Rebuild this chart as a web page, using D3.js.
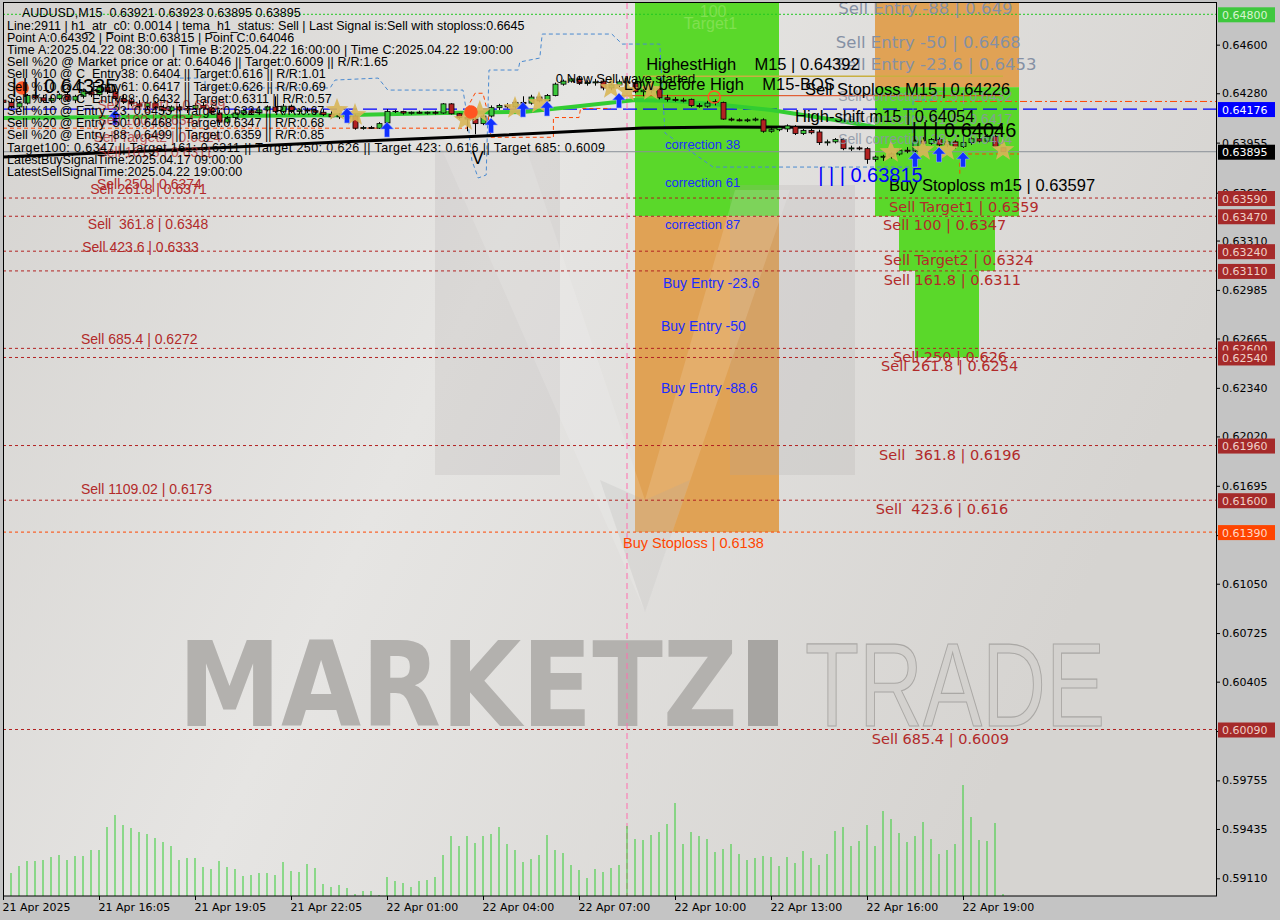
<!DOCTYPE html>
<html><head><meta charset="utf-8">
<script src="https://cdn.jsdelivr.net/npm/d3@7"></script>
<style>body{margin:0;background:#c4c4c4;overflow:hidden}svg{display:block}</style>
</head><body><svg id="c" width="1280" height="920"></svg>
<script>
// ---------------- DATA ----------------
const symbolTitle = "AUDUSD,M15  0.63921 0.63923 0.63895 0.63895";
const timeLabels = ["21 Apr 2025","21 Apr 16:05","21 Apr 19:05","21 Apr 22:05","22 Apr 01:00","22 Apr 04:00","22 Apr 07:00","22 Apr 10:00","22 Apr 13:00","22 Apr 16:00","22 Apr 19:00"];
const timeTickBars = [0,12,24,36,48,60,72,84,96,108,120];
const priceTicks = [0.646,0.6428,0.63955,0.63625,0.6331,0.62985,0.62665,0.6234,0.6202,0.61695,0.6137,0.6105,0.60725,0.60405,0.6008,0.59755,0.59435,0.5911];
// open, high, low, close per M15 bar
const ohlc = [
[.64235,.6426,.6421,.6422],[.6422,.6424,.6418,.6419],[.6419,.64225,.6418,.64215],[.64215,.64275,.64205,.64265],[.64265,.6429,.6424,.6425],
[.6425,.6427,.6422,.6423],[.6423,.6426,.64215,.64245],[.64245,.6428,.64235,.6427],[.6427,.64285,.64225,.64235],[.64235,.6427,.64215,.6426],
[.6426,.643,.64245,.6429],[.6429,.6431,.64255,.6427],[.6427,.6433,.6426,.6432],[.6432,.64345,.64275,.6429],[.6429,.6431,.6423,.64245],
[.64245,.6427,.6421,.64225],[.64225,.6425,.64195,.6421],[.6421,.64235,.6418,.64195],[.64195,.64225,.6417,.64215],[.64215,.6423,.64175,.64185],
[.64185,.64205,.6415,.64165],[.64165,.642,.64155,.6419],[.6419,.6421,.6416,.6417],[.6417,.64195,.6415,.6418],[.6418,.64215,.6417,.642],
[.642,.6422,.64175,.64185],[.64185,.642,.6414,.6415],[.6415,.6417,.6407,.6409],[.6409,.6413,.6408,.6412],[.6412,.6416,.6411,.6415],
[.6415,.64175,.64135,.64165],[.64165,.6418,.6414,.6415],[.6415,.64175,.6414,.6417],[.6417,.642,.6416,.6419],[.6419,.6426,.6415,.6416],
[.6416,.6421,.6415,.64195],[.64195,.64205,.6415,.6416],[.6416,.6418,.6414,.6417],[.6417,.64185,.6415,.64165],[.64165,.6418,.6414,.64155],
[.64155,.64175,.6413,.6414],[.6414,.6416,.64115,.64125],[.64125,.6415,.6411,.64135],[.64135,.64145,.641,.64115],[.6413,.6414,.6404,.6405],
[.6405,.64065,.6404,.64055],[.64055,.64065,.64045,.6405],[.6405,.6409,.64045,.6408],[.64085,.64175,.6408,.6416],[.6416,.6417,.6415,.6416],
[.6416,.64165,.6414,.6415],[.6415,.6416,.6414,.64155],[.64155,.64165,.64145,.6415],[.6415,.6416,.6414,.64155],[.64155,.64165,.6414,.6415],
[.6415,.64215,.64145,.6421],[.6421,.64215,.6414,.64145],[.64145,.6415,.6411,.6412],[.6412,.6416,.6403,.6411],[.6411,.6413,.6401,.6408],
[.6408,.6414,.6407,.6413],[.6413,.642,.6412,.64185],[.64185,.6421,.6417,.642],[.642,.64215,.6418,.6419],[.6419,.6423,.6418,.6422],
[.6422,.6426,.642,.64215],[.64215,.6427,.64205,.64255],[.64255,.6426,.6422,.6423],[.6423,.64275,.6422,.64265],[.64265,.6435,.6426,.6434],
[.6434,.6437,.6433,.6436],[.6436,.6438,.6435,.64375],[.64375,.64395,.64335,.64345],[.64345,.64365,.6433,.6435],[.6435,.64375,.6433,.64355],
[.6436,.64375,.643,.64315],[.64315,.64345,.643,.64335],[.64335,.6437,.6432,.64355],[.64355,.64392,.6433,.64345],[.64345,.64365,.6428,.6429],
[.6429,.6432,.6426,.643],[.643,.6433,.6428,.6431],[.6431,.64325,.6424,.6425],[.6425,.6427,.64225,.6424],[.6424,.64255,.64225,.64235],
[.64235,.6425,.6422,.6423],[.6424,.64245,.6419,.642],[.642,.64215,.64185,.64195],[.64195,.6423,.64185,.64215],[.64225,.6424,.642,.6422],
[.6422,.64225,.64105,.6411],[.6411,.6412,.64095,.64105],[.64105,.64115,.64095,.641],[.641,.64115,.6409,.64105],[.64105,.6412,.64095,.6411],
[.64105,.64115,.6402,.6403],[.6403,.6405,.6402,.6404],[.6404,.64065,.6403,.64055],[.64045,.64075,.64025,.64065],[.6406,.6407,.64005,.64015],
[.64015,.64045,.64005,.64035],[.64035,.64045,.6401,.6402],[.64025,.6404,.6394,.63955],[.63955,.63975,.63935,.6396],[.6396,.63985,.6395,.63975],
[.63975,.63985,.63905,.63915],[.63915,.63935,.639,.6392],[.6392,.6393,.63905,.63915],[.63915,.63925,.63815,.63845],[.63845,.6387,.6383,.6386],
[.6386,.63875,.63835,.63865],[.63865,.6389,.6385,.6388],[.6388,.63915,.6387,.63905],[.63905,.63925,.63885,.639],[.639,.63975,.6389,.63965],
[.63965,.6399,.6394,.6395],[.6395,.63985,.6394,.63975],[.63975,.6399,.6393,.6394],[.6394,.6397,.63925,.6396],[.6396,.6397,.63915,.6393],
[.6393,.64046,.6392,.63955],[.63955,.6399,.6394,.6398],[.6398,.64,.63955,.63965],[.63965,.6401,.63955,.63995],[.63995,.64005,.63925,.6393],
[.63921,.63923,.63895,.63895]
];
const volumes = [220,230,300,350,350,360,390,410,360,400,400,460,460,690,810,710,680,640,620,580,540,500,360,380,380,290,270,350,290,270,200,210,230,230,210,340,250,240,320,280,120,90,110,80,20,50,50,10,190,150,130,90,150,160,190,410,600,500,600,530,600,620,690,520,460,340,370,410,610,460,430,310,260,180,270,240,280,310,700,570,560,610,640,720,930,520,640,600,570,440,470,520,420,360,380,400,390,300,390,330,450,380,310,420,650,690,500,550,710,500,850,770,630,540,600,740,570,420,460,520,1110,790,560,550,730,20];
const temaLine = [[0,0.6386],[21,0.63906],[42,0.63959],[60,0.63998],[80,0.64051],[90,0.64058],[105,0.64055],[125,0.64051]];
const maLine = [[0,0.64117],[42,0.64136],[55,0.6415],[65,0.64157],[71,0.6419],[79,0.64236],[84,0.64229],[90,0.64203],[96,0.6417],[104,0.64104],[109,0.64058]];
const bandLine = [[22.1,0.6438],[25.25,0.6438],[25.25,0.64315],[40.9,0.64315],[41.5,0.64367],[46.9,0.6438],[48.1,0.64301],[57.5,0.64301],[58.1,0.64104],[58.6,0.6384],[59.4,0.63722],[60.4,0.63742],[60.75,0.64433],[64.4,0.64433],[64.6,0.64486],[67.1,0.64512],[67.4,0.6467],[76.1,0.6467],[77.4,0.64604],[82.1,0.64604],[82.75,0.64018],[88.75,0.63794],[113.75,0.63794],[113.75,0.64236],[116.5,0.64236]];
const trailLine = [[0,0.6405],[58,0.6405],[58.3,0.6421],[59,0.6428],[60,0.6428],[60.6,0.6415],[61,0.6399],[68.8,0.6399],[68.8,0.6412],[72,0.6412],[72.2,0.6418],[76,0.6418]];
const trailLine2 = [[119.6,0.6375],[119.6,0.6388],[127,0.6388]];
const stars = [[41.75,0.6417],[44,0.64137],[57.75,0.64104],[59.6,0.64157],[64,0.64183],[67,0.64216],[76,0.64315],[78,0.64295],[81,0.64301],[111,0.63893],[115,0.63906],[118,0.63906],[125,0.63906]];
const upArrows = [[14,0.6417],[43,0.64183],[48,0.6409],[61,0.64117],[65,0.64222],[68,0.64229],[77,0.64282],[114,0.63893],[117,0.63926],[120,0.63893]];
const fractalMarks = [[58.5,0.64156],[2.4,0.64315],[88.9,0.64255]];
const zoneBars = [[79,97],[79,97],[109,127],[109,127],[112,124],[114,122]];
const zonePrices = [[0.6490,0.6347],[0.6347,0.6139],[0.6490,0.6432],[0.6432,0.6347],[0.6347,0.6311],[0.6311,0.6254]];
const zoneKinds = ["target","risk","risk","target","target","target"];
const sellLevels = [0.6359,0.6347,0.6324,0.6311,0.626,0.6254,0.6196,0.616,0.6009];
const stopLevel = 0.6139;
const targetLevel = 0.648;
const entryLevel = 0.64176;
const lastPrice = 0.63895;
const slLevel = 0.64226;      // Sell Stoploss
const lowBeforeHigh = 0.64264;
const highestHigh = 0.64392;
const pointA = 78;
const sellLabelsRight = [["Sell Target1 | 0.6359",0.6359,110.75],["Sell 100 | 0.6347",0.6347,110],["Sell Target2 | 0.6324",0.6324,110.1],["Sell 161.8 | 0.6311",0.6311,110.1],["Sell 250 | 0.626",0.626,111.25],["Sell 261.8 | 0.6254",0.6254,109.75],["Sell  361.8 | 0.6196",0.6196,109.5],["Sell  423.6 | 0.616",0.616,109.1],["Sell 685.4 | 0.6009",0.6009,108.6]];
const sellLabelsLeft = [["Sell 250 | 0.6374",0.6374,11.75],["Sell 261.8 | 0.6371",0.6371,10.9],["Sell  361.8 | 0.6348",0.6348,10.6],["Sell 423.6 | 0.6333",0.6333,9.9],["Sell 685.4 | 0.6272",0.6272,9.75],["Sell 1109.02 | 0.6173",0.6173,9.75]];
const leftClutter = [["Sell Target1 | 0.6359",0.64262,11.8],["Sell 100 | 0.6347",0.64163,11.8],["Sell Target2 | 0.6324",0.64051,11.3],["Sell 161.8 | 0.6311",0.63952,11.8]];
const entryLabels = [["Sell Entry -88 | 0.649",0.649,104.4],["Sell Entry -50 | 0.6468",0.6468,104.1],["Sell Entry -23.6 | 0.6453",0.6453,104.1]];
const corrLabels = [["Sell correction 87.5 | 0.6432",0.6432,104.4],["Sell correction 61.8 | 0.6417",0.6417,104.4],["Sell correction 38.2 | 0.6404",0.6404,104.4]];
const structLabels = [["HighestHigh    M15 | 0.64392",0.64392,80.4],["Low before High    M15-BOS",0.64264,77.6],["Sell Stoploss M15 | 0.64226",0.64226,100.25],["High-shift m15 | 0.64054",0.64054,99],["Buy Stoploss m15 | 0.63597",0.63597,110.75]];
const pivotHighLabels = [["| | | 0.64046",0.64046,113.6],["| | | 0.64335",0.64335,1.1]];
const pivotLowLabels = [["| | | 0.63815",0.63815,101.9]];
const corrBuyLabels = [["correction 38",0.64,82.75],["correction 61",0.6375,82.75],["correction 87",0.6347,82.75]];
const buyEntryLabels = [["Buy Entry -23.6",0.6308,82.5],["Buy Entry -50",0.628,82.25],["Buy Entry -88.6",0.6239,82.25]];
const buyStopLabel = ["Buy Stoploss | 0.6138",0.6138,77.5];
const targetLabels = [["100",0.6488,87.1],["Target1",0.648,85.1]];
const noteLabels = [["0 New Sell wave started",0.6435,69.1],["V",0.6388,58.6]];
const infoLines = [
"Line:2911 | h1_atr_c0: 0.0014 | tema_h1_status: Sell | Last Signal is:Sell with stoploss:0.6645",
"Point A:0.64392 | Point B:0.63815 | Point C:0.64046",
"Time A:2025.04.22 08:30:00 | Time B:2025.04.22 16:00:00 | Time C:2025.04.22 19:00:00",
"Sell %20 @ Market price or at: 0.64046 || Target:0.6009 || R/R:1.65",
"Sell %10 @ C_Entry38: 0.6404 || Target:0.616 || R/R:1.01",
"Sell %10 @ C_Entry61: 0.6417 || Target:0.626 || R/R:0.69",
"Sell %10 @ C_Entry88: 0.6432 || Target:0.6311 || R/R:0.57",
"Sell %10 @ Entry -23: 0.6453 || Target:0.6324 || R/R:0.67",
"Sell %20 @ Entry -50: 0.6468 || Target:0.6347 || R/R:0.68",
"Sell %20 @ Entry -88: 0.6499 || Target:0.6359 || R/R:0.85",
"Target100: 0.6347 || Target 161: 0.6311 || Target 250: 0.626 || Target 423: 0.616 || Target 685: 0.6009",
"LatestBuySignalTime:2025.04.17 09:00:00",
"LatestSellSignalTime:2025.04.22 19:00:00"];

// ---------------- DRAW ----------------
const L=3,R=1216,T=3,B=896;
const svg=d3.select("#c");
const x=d3.scaleLinear().domain([0,125]).range([3,1003]);
const y=d3.scaleLinear().domain([0.6009,0.648]).range([729.5,14.3]);
const yv=d3.scaleLinear().domain([0,1110]).range([B,785]);
const SANS="'Liberation Sans', Arial, sans-serif";
const DJ="'DejaVu Sans', sans-serif";

const defs=svg.append("defs");
defs.append("clipPath").attr("id","clip").append("rect").attr("x",L).attr("y",T).attr("width",R-L).attr("height",B-T);
const gr=defs.append("linearGradient").attr("id","bg").attr("x1","0").attr("y1","0").attr("x2","1").attr("y2","0.35");
gr.append("stop").attr("offset","0").attr("stop-color","#d5d3d0");
gr.append("stop").attr("offset","0.45").attr("stop-color","#e6e5e3");
gr.append("stop").attr("offset","1").attr("stop-color","#d6d4d1");

svg.append("rect").attr("width",1280).attr("height",920).attr("fill","#c4c4c4");
svg.append("rect").attr("x",L).attr("y",T).attr("width",R-L).attr("height",B-T).attr("fill","url(#bg)");
const plot=svg.append("g").attr("clip-path","url(#clip)");

// zones
const zoneColor={target:"#5ad82a",risk:"#e0a255"};
plot.append("g").selectAll("rect").data(zoneBars).join("rect")
 .attr("x",d=>x(d[0])).attr("width",d=>x(d[1])-x(d[0]))
 .attr("y",(d,i)=>y(zonePrices[i][0])).attr("height",(d,i)=>y(zonePrices[i][1])-y(zonePrices[i][0]))
 .attr("fill",(d,i)=>zoneColor[zoneKinds[i]]);

// watermark
const wm=plot.append("g");
wm.append("polygon").attr("points","435,150 560,150 560,475 435,475").attr("fill","#a9a7a4").attr("opacity",0.2);
wm.append("polygon").attr("points","730,185 855,185 855,475 730,475").attr("fill","#a9a7a4").attr("opacity",0.2);
wm.append("polygon").attr("points","440,145 525,145 645,500 735,190 790,190 645,612").attr("fill","#ffffff").attr("opacity",0.13);
wm.append("polygon").attr("points","600,480 645,500 690,480 645,612").attr("fill","#a9a7a4").attr("opacity",0.18);
wm.append("text").attr("x",178).attr("y",726).attr("font-family",DJ).attr("font-weight","bold").attr("font-size",118)
 .attr("textLength",560).attr("lengthAdjust","spacingAndGlyphs").attr("fill","#b3b1ae").text("MARKETZ");
wm.append("rect").attr("x",748).attr("y",640).attr("width",30).attr("height",86).attr("fill","#a7a5a2");
wm.append("text").attr("x",805).attr("y",726).attr("font-family",SANS).attr("font-size",118)
 .attr("textLength",300).attr("lengthAdjust","spacingAndGlyphs").attr("fill","#d3d1ce").attr("stroke","#aaa8a5").attr("stroke-width",1.2).text("TRADE");

// horizontal levels
const hl=plot.append("g");
function hline(p,x1,x2,col,dash,w){hl.append("line").attr("x1",x1).attr("x2",x2).attr("y1",y(p)).attr("y2",y(p)).attr("stroke",col).attr("stroke-width",w||1).attr("stroke-dasharray",dash||null);}
hline(targetLevel,L,R,"#22c822","2,2");
sellLevels.forEach(p=>hline(p,L,R,"#b22222","3,3"));
hline(stopLevel,L,R,"#ff4500","3,3");
hline(lastPrice,L,R,"#8a9098",null,1);
hline(entryLevel,L,R,"#0000ff","14,6",1.3);
hline(slLevel,x(114),R,"#ff4500","7,3,2,3");
hline(lowBeforeHigh,x(77),x(125),"#e04010",null,1);
hline(highestHigh,x(80),x(125),"#c8b040",null,1.5);
plot.append("line").attr("x1",x(pointA)).attr("x2",x(pointA)).attr("y1",T).attr("y2",B).attr("stroke","#ff6fae").attr("stroke-dasharray","6,4").attr("stroke-width",1);

// volumes
plot.append("g").selectAll("line").data(volumes).join("line")
 .attr("x1",(d,i)=>x(i)).attr("x2",(d,i)=>x(i)).attr("y1",yv(0)).attr("y2",d=>yv(d))
 .attr("stroke","#32cd32").attr("stroke-width",1);

// lines
const ln=d3.line().x(d=>x(d[0])).y(d=>y(d[1]));
plot.append("path").attr("d",ln(bandLine)).attr("fill","none").attr("stroke","#4a8ad0").attr("stroke-dasharray","4,3").attr("stroke-width",1);
plot.append("path").attr("d",ln(trailLine)).attr("fill","none").attr("stroke","#ff4500").attr("stroke-dasharray","4,3").attr("stroke-width",1);
plot.append("path").attr("d",ln(trailLine2)).attr("fill","none").attr("stroke","#ff4500").attr("stroke-dasharray","4,3").attr("stroke-width",1);
plot.append("path").attr("d",ln(maLine)).attr("fill","none").attr("stroke","#32cd32").attr("stroke-width",4);
plot.append("path").attr("d",ln(temaLine)).attr("fill","none").attr("stroke","#000").attr("stroke-width",3);

// candles
const cg=plot.append("g");
ohlc.forEach((d,i)=>{
 const [o,h,l,c]=d, cx=Math.round(x(i))+0.5;
 cg.append("line").attr("x1",cx).attr("x2",cx).attr("y1",y(h)).attr("y2",y(l)).attr("stroke","#000");
 if(Math.abs(o-c)<0.00002){cg.append("line").attr("x1",cx-3).attr("x2",cx+3).attr("y1",y(c)).attr("y2",y(c)).attr("stroke","#000");}
 else{const top=y(Math.max(o,c)),bot=y(Math.min(o,c));
  cg.append("rect").attr("x",cx-2.5).attr("y",top).attr("width",5).attr("height",Math.max(1,bot-top))
   .attr("fill",c>o?"#3cc83c":"#b22222").attr("stroke","#000").attr("stroke-width",0.8);}
});

// markers
function starPath(Ro,ri){const p=[];for(let i=0;i<10;i++){const a=-Math.PI/2+i*Math.PI/5,r=i%2?ri:Ro;p.push((r*Math.cos(a)).toFixed(2)+","+(r*Math.sin(a)).toFixed(2));}return "M"+p.join("L")+"Z";}
plot.append("g").selectAll("path").data(stars).join("path").attr("d",starPath(12,5))
 .attr("transform",d=>`translate(${x(d[0])},${y(d[1])})`).attr("fill","#d8b658").attr("opacity",0.9);
plot.append("g").selectAll("path").data(upArrows).join("path").attr("d","M0,0L6.5,7L2.5,7L2.5,15L-2.5,15L-2.5,7L-6.5,7Z")
 .attr("transform",d=>`translate(${x(d[0])},${y(d[1])})`).attr("fill","#1030ff").attr("stroke","#9aa8ff").attr("stroke-width",0.6);
plot.append("g").selectAll("circle").data(fractalMarks).join("circle").attr("cx",d=>x(d[0])).attr("cy",d=>y(d[1])).attr("r",6)
 .attr("fill",(d,i)=>i==2?"none":"#ff5522").attr("stroke","#ff5522").attr("stroke-width",1.5);

// texts
const tg=plot.append("g").style("white-space","pre");
function txt(s,xx,yy,size,col,fam,opts){const t=tg.append("text").attr("x",xx).attr("y",yy).attr("font-size",size).attr("fill",col).attr("font-family",fam||SANS).style("white-space","pre").text(s);if(opts&&opts.op)t.attr("opacity",opts.op);return t;}
sellLabelsRight.forEach(d=>txt(d[0],x(d[2]),y(d[1])+14,14.5,"#b22a2a",DJ));
sellLabelsLeft.forEach(d=>txt(d[0],x(d[2]),y(d[1])+14,14,"#b22a2a"));
leftClutter.forEach(d=>txt(d[0],x(d[2]),y(d[1])+14,14,"#b22a2a",SANS,{op:0.75}));
entryLabels.forEach(d=>txt(d[0],x(d[2]),y(d[1])+15,16.5,"#8590a4",DJ));
corrLabels.forEach(d=>txt(d[0],x(d[2]),y(d[1])+14,14,"#8c96a6",SANS,{op:0.85}));
structLabels.forEach(d=>txt(d[0],x(d[2]),y(d[1])-6,16.5,"#000"));
pivotHighLabels.forEach(d=>txt(d[0],x(d[2]),y(d[1])+8,20,"#000"));
pivotLowLabels.forEach(d=>txt(d[0],x(d[2]),y(d[1])+18,20,"#0000ff"));
corrBuyLabels.forEach(d=>txt(d[0],x(d[2]),y(d[1])+13,13,"#1a2cff"));
buyEntryLabels.forEach(d=>txt(d[0],x(d[2]),y(d[1])+13,14,"#1a2cff"));
txt(buyStopLabel[0],x(buyStopLabel[2]),y(buyStopLabel[1])+14,14.5,"#ff4500");
targetLabels.forEach(d=>txt(d[0],x(d[2]),y(d[1])+15,16,"#80e050"));
txt(noteLabels[0][0],x(noteLabels[0][2]),y(noteLabels[0][1]),13,"#000");
txt(noteLabels[1][0],x(noteLabels[1][2]),y(noteLabels[1][1])+10,18,"#000");

// header info
const infoWidths = {2:506,3:381,10:598};
const hg=svg.append("g").attr("font-family",SANS).attr("font-size",12.5).attr("fill","#000");
hg.append("text").attr("x",22).attr("y",17).style("white-space","pre").text(symbolTitle);
hg.selectAll("text.info").data(infoLines).join("text").attr("class","info").attr("x",7).attr("y",(d,i)=>29.5+i*12.2)
 .attr("textLength",(d,i)=>infoWidths[i]||null).attr("lengthAdjust","spacing").text(d=>d);

// border
svg.append("rect").attr("x",L+0.5).attr("y",T-0.5).attr("width",R-L).attr("height",B-T+0.5).attr("fill","none").attr("stroke","#000");

// axes
const ya=svg.append("g").attr("transform",`translate(${R},0)`).call(d3.axisRight(y).tickValues(priceTicks).tickFormat(d3.format(".5f")).tickSize(4).tickPadding(2));
ya.select(".domain").remove();
ya.selectAll("text").attr("font-family",DJ).attr("font-size",11).attr("fill","#000");
ya.selectAll("line").attr("stroke","#000");
const xa=svg.append("g").attr("transform",`translate(0,${B})`).call(d3.axisBottom(x).tickValues(timeTickBars).tickFormat((d,i)=>timeLabels[i]).tickSize(4).tickPadding(3));
xa.select(".domain").remove();
xa.selectAll("text").attr("font-family",DJ).attr("font-size",11).attr("fill","#000").attr("text-anchor","start").attr("dx",-1);
xa.selectAll("line").attr("stroke","#000");

// price boxes
const boxes=[[targetLevel,"#3ec83e","#d8f5d0"],[entryLevel,"#0000ff","#ffffff"],[lastPrice,"#000000","#ffffff"],[stopLevel,"#ff4500","#ffd8c8"]]
 .concat(sellLevels.map(p=>[p,"#a52a2a","#f0d0c8"]));
const bx=svg.append("g");
boxes.forEach(b=>{const yy=y(b[0]);
 bx.append("rect").attr("x",R+2).attr("y",yy-7).attr("width",57).attr("height",15).attr("fill",b[1]);
 bx.append("text").attr("x",R+6).attr("y",yy+4.5).attr("font-family",DJ).attr("font-size",11).attr("fill",b[2]).text(d3.format(".5f")(b[0]));
});
</script></body></html>
